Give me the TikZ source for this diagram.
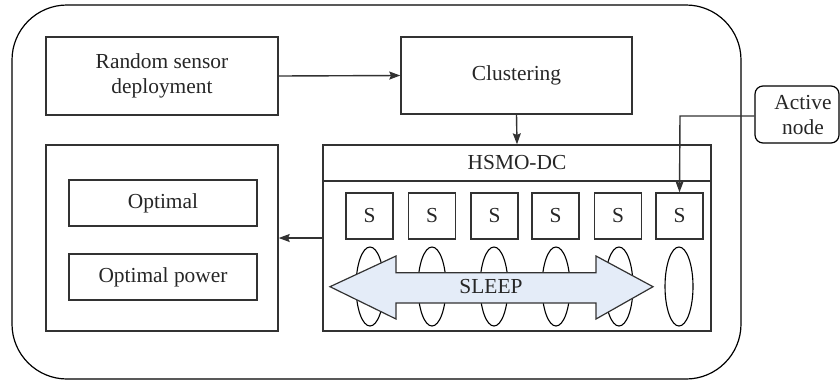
\documentclass[tikz,border=0pt]{standalone}
\usepackage{fontspec}
\setmainfont{Liberation Serif}
\usetikzlibrary{shapes.geometric,arrows.meta}
\definecolor{boxline}{RGB}{50,50,50}
\definecolor{sleepfill}{RGB}{228,236,248}
\begin{document}
\begin{tikzpicture}[x=0.5pt,y=-0.5pt,
  every node/.style={font=\fontsize{10.7}{12.5}\selectfont, text=black!85},
  box/.style={draw=boxline, line width=0.7pt, rectangle, inner sep=0pt, align=center},
  sbox/.style={box, minimum width=23.5pt, minimum height=23pt},
  oval/.style={draw=black, line width=0.55pt, ellipse, inner sep=0pt, minimum width=14pt, minimum height=39.5pt},
  conn/.style={draw=boxline, line width=0.7pt, -{Stealth[length=5.5pt,width=4pt,inset=0.8pt]}}]
\useasboundingbox (0,0) rectangle (840,381);
% outer frame
\draw[line width=0.6pt, rounded corners=27.5pt] (12,5) rectangle (741,379);
% top boxes
\node[box, minimum width=116pt, minimum height=39pt] (rand) at (162,76) {Random sensor\\deployment};
\node[box, minimum width=115.5pt, minimum height=38.5pt] (clus) at (516.5,75.5) {Clustering};
% result box
\node[box, minimum width=116pt, minimum height=93pt] (res) at (162,238) {};
\node[box, minimum width=94pt, minimum height=23pt] (opt) at (163,203) {Optimal};
\node[box, minimum width=94pt, minimum height=23pt] (optp) at (163,277) {Optimal power};
% HSMO-DC box
\node[box, minimum width=194pt, minimum height=93pt] (hsmo) at (517,238) {};
\draw[draw=boxline, line width=0.7pt] (hsmo.north west |- 0,181) coordinate (hl) -- (hsmo.north east |- 0,181) coordinate (hr);
\node (htitle) at (517,163) {HSMO-DC};
% S boxes
\foreach \i/\x in {1/369.5,2/432,3/494.5,4/555.5,5/618,6/679.5}{
  \node[sbox] (s\i) at (\x,216) {S};
}
% ellipses
\foreach \i/\x in {1/370,2/432,3/494,4/556,5/619,6/679}{
  \node[oval] (e\i) at (\x,286.5) {};
}
% sleep arrow
\draw[draw=boxline, line width=0.6pt, fill=sleepfill]
  (330,286.7) -- (396,256) -- (396,272.7) -- (596,272.7) -- (596,256) -- (653,286.7)
  -- (596,319) -- (596,303) -- (396,303) -- (396,319) -- cycle;
\node (sleep) at (491,287) {SLEEP};
% active node
\node[draw=black, line width=0.6pt, rounded corners=4pt, minimum width=42pt, minimum height=28.5pt, inner sep=0pt, align=center] (act) at (797,114.5) {};
\node[align=center] (acttext) at (803,115) {Active\\node};
% connectors
\draw[conn] (rand.east) -- (clus.west);
\draw[conn] (clus.south) -- (hsmo.north);
\draw[conn] (hsmo.west |- 0,238) -- (res.east |- 0,238);
\coordinate (bend) at (680,116);
\draw[conn] (act.west |- bend) -- (bend) -- (s6.north);
\end{tikzpicture}
\end{document}
